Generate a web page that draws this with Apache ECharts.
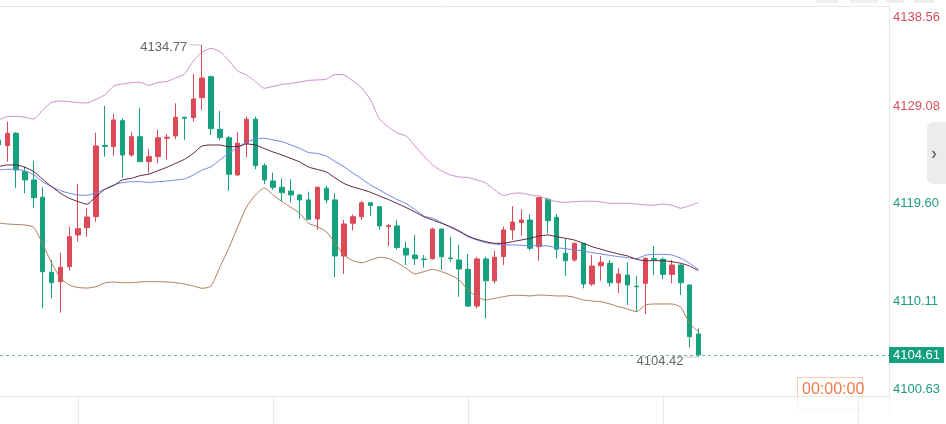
<!DOCTYPE html>
<html>
<head>
<meta charset="utf-8">
<script src="https://cdn.jsdelivr.net/npm/echarts@6/dist/echarts.min.js"></script>
<style>
  html, body { margin: 0; padding: 0; background: #fff; overflow: hidden; }
  /* shifted left so the first bar is only half visible, as in the source */
  #kChart { width: 952px; height: 424px; margin-left: -6px; }
</style>
</head>
<body>
<div id="kChart"></div>
<script>
// [open, close, low, high]
const candles = [
  [4125.53, 4125.05, 4124.80, 4125.80], [4124.98, 4126.18, 4123.42, 4127.31], [4126.18, 4122.61, 4120.86, 4126.30],
  [4122.45, 4121.64, 4120.35, 4122.94], [4121.64, 4119.92, 4118.89, 4123.49], [4119.96, 4112.72, 4109.16, 4120.93],
  [4112.66, 4111.65, 4110.13, 4113.86], [4111.75, 4113.15, 4108.73, 4114.57], [4113.21, 4116.12, 4112.82, 4117.10],
  [4116.29, 4116.90, 4115.64, 4121.25], [4117.00, 4118.04, 4116.12, 4118.89], [4118.07, 4124.95, 4117.58, 4126.24],
  [4125.00, 4124.90, 4123.91, 4128.84], [4124.88, 4127.48, 4123.97, 4128.06], [4127.41, 4124.07, 4121.86, 4127.64],
  [4124.07, 4125.85, 4123.91, 4126.28], [4125.85, 4123.42, 4123.42, 4128.67], [4123.42, 4123.91, 4122.35, 4124.66],
  [4123.91, 4125.75, 4123.26, 4126.50], [4125.70, 4125.80, 4123.59, 4126.12], [4125.92, 4127.74, 4125.60, 4129.10],
  [4127.74, 4127.64, 4125.53, 4127.80], [4127.70, 4129.52, 4127.31, 4131.95], [4129.65, 4131.56, 4128.45, 4134.77],
  [4131.69, 4126.63, 4126.02, 4131.80], [4126.57, 4125.75, 4125.50, 4128.35], [4125.75, 4122.19, 4120.60, 4125.92],
  [4122.13, 4125.21, 4122.03, 4126.28], [4125.21, 4127.55, 4123.85, 4127.80], [4127.55, 4123.03, 4122.68, 4127.80],
  [4123.03, 4121.64, 4121.25, 4123.26], [4121.54, 4120.93, 4120.67, 4122.35], [4120.93, 4120.40, 4119.53, 4121.80],
  [4120.57, 4120.18, 4119.47, 4121.71], [4120.18, 4119.70, 4117.91, 4120.25], [4119.70, 4117.82, 4117.75, 4120.50],
  [4117.85, 4120.93, 4116.78, 4120.99], [4120.83, 4119.70, 4119.37, 4121.06], [4119.70, 4114.25, 4112.17, 4120.35],
  [4114.25, 4117.36, 4112.49, 4117.75], [4117.43, 4118.07, 4116.73, 4118.30], [4118.07, 4119.43, 4117.75, 4119.60],
  [4119.43, 4119.16, 4118.14, 4119.50], [4119.04, 4117.17, 4116.78, 4119.10], [4117.10, 4117.20, 4115.22, 4117.36],
  [4117.17, 4115.07, 4114.88, 4117.75], [4115.00, 4114.34, 4113.37, 4115.64], [4114.34, 4113.98, 4113.37, 4116.29],
  [4113.95, 4113.90, 4113.11, 4114.34], [4113.98, 4116.87, 4113.90, 4117.00], [4116.87, 4114.18, 4112.89, 4116.90],
  [4114.05, 4114.00, 4113.69, 4116.12], [4113.86, 4112.98, 4110.29, 4115.32], [4112.95, 4109.38, 4109.28, 4114.44],
  [4109.38, 4113.96, 4109.16, 4114.18], [4113.96, 4111.84, 4108.19, 4114.18], [4111.84, 4114.12, 4111.59, 4114.76],
  [4114.18, 4116.78, 4113.37, 4117.10], [4116.78, 4117.55, 4115.81, 4119.11], [4117.50, 4117.75, 4116.19, 4118.79],
  [4117.75, 4115.00, 4114.76, 4118.30], [4115.15, 4119.92, 4113.79, 4120.00], [4119.76, 4117.68, 4116.45, 4119.90],
  [4118.01, 4114.90, 4114.02, 4118.33], [4114.51, 4113.79, 4112.30, 4115.97], [4113.86, 4115.48, 4113.69, 4115.54],
  [4115.48, 4111.52, 4111.10, 4115.50], [4111.52, 4113.27, 4111.33, 4114.34], [4113.30, 4113.63, 4111.84, 4114.25],
  [4113.54, 4111.65, 4111.26, 4113.86], [4111.65, 4112.49, 4110.62, 4113.05], [4112.40, 4111.42, 4109.48, 4113.63],
  [4111.30, 4111.25, 4108.83, 4112.30], [4111.59, 4114.02, 4108.60, 4114.12], [4114.00, 4113.90, 4112.40, 4115.22],
  [4113.93, 4112.46, 4111.98, 4114.12], [4112.46, 4113.37, 4111.59, 4113.86], [4113.37, 4111.65, 4110.45, 4113.45],
  [4111.42, 4106.40, 4105.37, 4111.50], [4106.66, 4104.61, 4104.42, 4107.21]
];

const bollUpper = [
  4127.48, 4127.80, 4127.82, 4127.74, 4127.57, 4128.45, 4129.18, 4129.32, 4129.26, 4129.16,
  4129.13, 4129.49, 4129.91, 4130.78, 4130.98, 4131.10, 4131.14, 4130.83, 4131.12, 4131.22,
  4131.56, 4131.95, 4133.22, 4134.09, 4134.43, 4134.12, 4133.26, 4132.24, 4131.85, 4131.20,
  4130.56, 4130.74, 4130.93, 4131.03, 4131.17, 4131.32, 4131.37, 4131.44, 4131.90, 4131.85,
  4131.27, 4130.59, 4129.42, 4127.57, 4126.80, 4126.21, 4125.92, 4124.95, 4123.97, 4123.10,
  4122.52, 4122.13, 4121.93, 4121.88, 4121.64, 4121.35, 4120.67, 4120.13, 4120.33, 4120.37,
  4120.18, 4120.08, 4119.76, 4119.53, 4119.47, 4119.53, 4119.57, 4119.57, 4119.50, 4119.37,
  4119.37, 4119.37, 4119.30, 4119.21, 4119.18, 4119.30, 4119.18, 4118.89, 4119.14, 4119.43
];

const bollLower = [
  4117.46, 4117.36, 4117.31, 4117.26, 4117.02, 4115.41, 4113.57, 4112.11, 4111.43, 4111.18,
  4111.13, 4111.26, 4111.62, 4111.72, 4111.65, 4111.65, 4111.72, 4111.75, 4111.75, 4111.72,
  4111.65, 4111.52, 4111.33, 4111.10, 4111.33, 4113.18, 4115.02, 4117.07, 4119.01, 4120.18,
  4120.86, 4120.18, 4119.53, 4118.98, 4118.40, 4117.43, 4117.10, 4116.61, 4115.48, 4114.34,
  4113.79, 4113.59, 4113.86, 4114.12, 4114.02, 4113.59, 4113.05, 4112.50, 4112.72, 4112.95,
  4112.72, 4112.40, 4111.91, 4110.94, 4110.29, 4109.97, 4110.13, 4110.29, 4110.42, 4110.42,
  4110.36, 4110.45, 4110.42, 4110.36, 4110.36, 4110.23, 4109.97, 4109.87, 4109.80, 4109.58,
  4109.31, 4109.09, 4108.83, 4109.48, 4109.58, 4109.58, 4109.58, 4109.26, 4107.70, 4106.88
];

// blue line
const maFast = [
  4122.61, 4122.68, 4122.68, 4122.52, 4122.13, 4121.47, 4120.99, 4120.60, 4120.35, 4120.18,
  4120.15, 4120.40, 4120.73, 4121.15, 4121.38, 4121.47, 4121.47, 4121.40, 4121.47, 4121.54,
  4121.64, 4121.74, 4122.13, 4122.61, 4122.93, 4123.59, 4124.24, 4124.80, 4125.34, 4125.60,
  4125.70, 4125.53, 4125.37, 4125.04, 4124.72, 4124.31, 4124.22, 4123.97, 4123.44, 4122.93,
  4122.32, 4121.74, 4121.15, 4120.67, 4120.18, 4119.74, 4119.35, 4118.77, 4118.14, 4117.91,
  4117.49, 4117.04, 4116.61, 4116.12, 4115.80, 4115.54, 4115.41, 4115.32, 4115.32, 4115.29,
  4115.25, 4115.25, 4115.22, 4115.05, 4114.96, 4114.83, 4114.73, 4114.57, 4114.44, 4114.31,
  4114.18, 4114.08, 4113.98, 4114.31, 4114.41, 4114.41, 4114.34, 4114.02, 4113.54, 4112.95
];

// dark middle line
const maMid = [
  4122.93, 4123.10, 4123.10, 4122.87, 4122.45, 4121.71, 4120.99, 4120.35, 4119.86, 4119.53,
  4119.28, 4120.02, 4120.73, 4121.10, 4121.64, 4121.80, 4122.06, 4122.22, 4122.54, 4122.87,
  4123.26, 4123.65, 4124.24, 4124.95, 4125.04, 4125.04, 4124.88, 4124.88, 4125.14, 4125.04,
  4124.70, 4124.36, 4124.07, 4123.73, 4123.39, 4122.90, 4122.66, 4122.42, 4121.83, 4121.30,
  4120.96, 4120.72, 4120.44, 4120.08, 4119.74, 4119.35, 4118.96, 4118.53, 4118.07, 4117.75,
  4117.43, 4117.10, 4116.68, 4116.19, 4115.87, 4115.64, 4115.48, 4115.48, 4115.64, 4115.80,
  4115.97, 4116.19, 4116.29, 4116.12, 4115.97, 4115.80, 4115.48, 4115.15, 4114.90, 4114.66,
  4114.44, 4114.25, 4113.93, 4113.79, 4113.79, 4113.79, 4113.69, 4113.54, 4113.27, 4112.82
];

const yTicks = [4100.63, 4110.11, 4119.60, 4129.08, 4138.56];
const lastPrice = 4104.61;
const prevClose = 4124.30;
const totalSlots = 101; // 80 bars plus empty space on the right

const categories = [];
for (let i = 0; i < totalSlots; i++) {
  const m = 9 * 60 + 10 + i;
  categories.push(String(Math.floor(m / 60)).padStart(2, '0') + ':' + String(m % 60).padStart(2, '0'));
}

const UP = '#dd4a57';
const DOWN = '#15a17e';
const EDGE = '#e8e8e8';

const chart = echarts.init(document.getElementById('kChart'));

function lineSeries(name, data, color) {
  return {
    name: name,
    type: 'line',
    data: data,
    symbol: 'none',
    smooth: 0.2,
    silent: true,
    lineStyle: { width: 1, color: color }
  };
}

chart.setOption({
  animation: false,
  textStyle: { fontFamily: 'Arial, "Liberation Sans", sans-serif' },
  grid: { left: 0, right: 57, top: 6, bottom: 28 },
  xAxis: [
    {
      type: 'category',
      data: categories,
      axisLine: { lineStyle: { color: EDGE } },
      axisLabel: { show: false },
      axisTick: {
        show: true,
        alignWithLabel: true,
        interval: function (idx) { return idx % 22 === 9; },
        length: 28,
        lineStyle: { color: EDGE }
      },
      splitLine: { show: false }
    },
    {
      type: 'category',
      data: categories,
      position: 'top',
      axisLine: { lineStyle: { color: EDGE } },
      axisLabel: { show: false },
      axisTick: { show: false }
    }
  ],
  yAxis: {
    type: 'value',
    position: 'right',
    min: yTicks[0],
    max: yTicks[yTicks.length - 1],
    scale: true,
    axisLine: { show: true, lineStyle: { color: EDGE } },
    axisTick: { show: false },
    splitLine: { show: false },
    axisLabel: {
      customValues: yTicks,
      margin: 4,
      fontSize: 13,
      verticalAlignMinLabel: 'bottom',
      verticalAlignMaxLabel: 'top',
      formatter: function (v) { return '{v|' + v.toFixed(2) + '}'; },
      rich: { v: { fontSize: 13, padding: [5, 0, 0, 0] } },
      color: function (v) { return v > prevClose ? '#d34f5b' : '#1d9c7c'; }
    }
  },
  series: [
    {
      name: 'K',
      type: 'candlestick',
      data: candles,
      barWidth: 5,
      itemStyle: {
        color: UP, color0: DOWN,
        borderColor: UP, borderColor0: DOWN,
        borderWidth: 1
      },
      markPoint: {
        symbol: 'rect',
        symbolSize: [12, 1],
        itemStyle: { color: '#c4c4c4' },
        label: {
          show: true,
          position: 'left',
          distance: 2,
          color: '#666',
          fontSize: 13,
          formatter: function (p) { return Number(p.value).toFixed(2); }
        },
        data: [
          { type: 'max', valueDim: 'highest', symbolOffset: [-7, 0], label: { offset: [0, 2] } },
          { type: 'min', valueDim: 'lowest', symbolOffset: [-7, 0], label: { offset: [0, 4] } }
        ]
      },
      markLine: {
        symbol: 'none',
        silent: true,
        lineStyle: { color: '#5cc2a2', type: [3, 3], width: 1 },
        label: {
          position: 'end',
          distance: 0,
          formatter: lastPrice.toFixed(2),
          color: '#fff',
          fontSize: 13,
          backgroundColor: '#13a07d',
          padding: [2, 4, 1, 4]
        },
        data: [{
          yAxis: lastPrice,
          lineStyle: { color: '#5cc2a2', type: [3, 3], width: 1 }
        }]
      }
    },
    lineSeries('BOLL UP', bollUpper, '#d18ad0'),
    lineSeries('BOLL DN', bollLower, '#b07a5a'),
    lineSeries('MA', maFast, '#6b83e8'),
    lineSeries('MID', maMid, '#5c1f3c')
  ],
  graphic: [
    {
      type: 'line',
      shape: { x1: 895.5, y1: 396, x2: 895.5, y2: 416 },
      style: { stroke: EDGE, lineWidth: 1 }
    },
    {
      type: 'rect', right: 0, top: 122,
      shape: { width: 19, height: 62, r: [6, 0, 0, 6] },
      style: { fill: '#ececec' }
    },
    {
      type: 'text', left: 937, top: 145,
      style: { text: '›', fill: '#777', fontSize: 18, fontWeight: 'bold' }
    },
    { type: 'rect', left: 821, top: -6, shape: { width: 24, height: 9, r: 3 }, style: { fill: '#eeeeee' } },
    { type: 'rect', left: 856, top: -6, shape: { width: 28, height: 9, r: 3 }, style: { fill: '#eeeeee' } },
    { type: 'rect', left: 892, top: -6, shape: { width: 18, height: 9, r: 3 }, style: { fill: '#eeeeee' } },
    { type: 'rect', left: 919, top: -6, shape: { width: 22, height: 9, r: 3 }, style: { fill: '#eeeeee' } },
    {
      type: 'rect', left: 803, top: 377,
      shape: { width: 65, height: 32 },
      style: { fill: '#fff', stroke: '#f6c9b4', lineWidth: 1 }
    },
    {
      type: 'text', left: 808, top: 382,
      style: { text: '00:00:00', fill: '#f07a48', fontSize: 16 }
    },
    {
      type: 'rect', left: 721, top: 398,
      shape: { width: 231, height: 18 },
      style: { fill: 'rgba(255,255,255,0.75)' }
    }
  ]
});
</script>
</body>
</html>
